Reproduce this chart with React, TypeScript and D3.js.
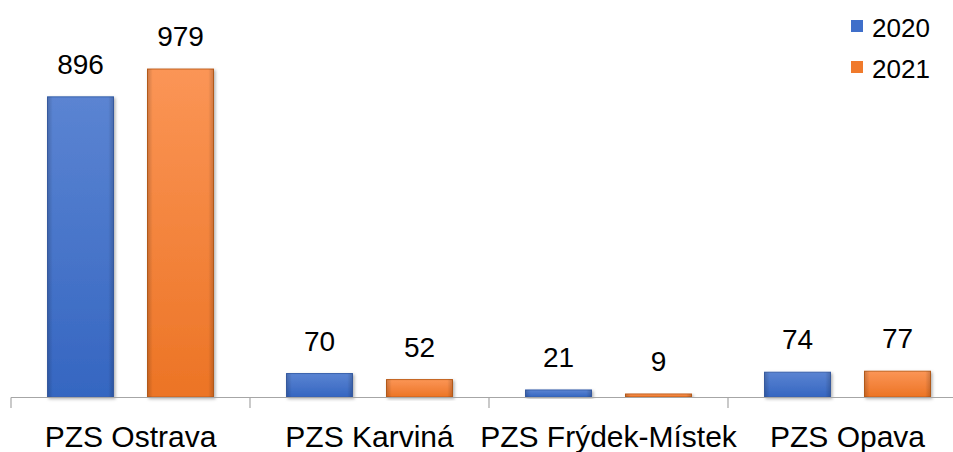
import React from 'react';
import * as d3 from 'd3';

const categories = ['PZS Ostrava', 'PZS Karviná', 'PZS Frýdek-Místek', 'PZS Opava'];
const series = ['2020', '2021'];
const values2020 = [896, 70, 21, 74];
const values2021 = [979, 52, 9, 77];

const width = 953;
const height = 452;
const font = '"Liberation Sans", Arial, sans-serif';

const App = () => {
	const x = d3.scaleBand<string>().domain(categories).range([11, 967]);
	const xs = d3.scaleBand<string>().domain(series).range([36.5, 202.5]).paddingInner(0.34);
	const y = d3.scaleLinear().domain([0, 1000]).range([397, 62]);
	const data = [values2020, values2021];
	const fills = ['url(#gBlue)', 'url(#gOrange)'];
	const edges = ['#3a62ad', '#c3621f'];
	const legendColors = ['#3f6fca', '#f07a2c'];
	const ticks = categories.map((c) => x(c) as number).concat([(x(categories[3]) as number) + x.bandwidth()]);

	return (
		<svg width={width} height={height} style={{ position: 'absolute', left: 0, top: 0 }} fontFamily={font}>
			<defs>
				<linearGradient id="gBlue" x1="0" y1="0" x2="0" y2="1">
					<stop offset="0%" stopColor="#5b84d2" />
					<stop offset="100%" stopColor="#3566c1" />
				</linearGradient>
				<linearGradient id="gOrange" x1="0" y1="0" x2="0" y2="1">
					<stop offset="0%" stopColor="#fb9556" />
					<stop offset="100%" stopColor="#ec7425" />
				</linearGradient>
				<linearGradient id="gEdge" x1="0" y1="0" x2="1" y2="0">
					<stop offset="0%" stopColor="#000" stopOpacity="0.18" />
					<stop offset="8%" stopColor="#000" stopOpacity="0" />
					<stop offset="92%" stopColor="#000" stopOpacity="0" />
					<stop offset="100%" stopColor="#000" stopOpacity="0.18" />
				</linearGradient>
				<filter id="shadow" x="-20%" y="-20%" width="140%" height="140%">
					<feDropShadow dx="1.5" dy="1.5" stdDeviation="1.5" floodColor="#000" floodOpacity="0.3" />
				</filter>
			</defs>
			{categories.map((c, i) => (
				<g key={c}>
					{series.map((s, k) => {
						const v = data[k][i];
						const bx = (x(c) as number) + (xs(s) as number);
						return (
							<g key={s}>
								<rect x={bx} y={y(v)} width={xs.bandwidth()} height={y(0) - y(v)}
									fill={fills[k]} stroke={edges[k]} strokeWidth={1} filter="url(#shadow)" />
								<rect x={bx} y={y(v)} width={xs.bandwidth()} height={y(0) - y(v)} fill="url(#gEdge)" />
								<text x={bx + xs.bandwidth() / 2} y={y(v) - 23} textAnchor="middle" fontSize={28} fill="#000">{v}</text>
							</g>
						);
					})}
					<text x={(x(c) as number) + x.bandwidth() / 2} y={447} textAnchor="middle" fontSize={30} fill="#000">{c}</text>
				</g>
			))}
			<line x1={11} x2={width} y1={397.5} y2={397.5} stroke="#a6a6a6" strokeWidth={1.2} />
			{ticks.map((t) => (
				<line key={t} x1={t} x2={t} y1={397.5} y2={408} stroke="#a6a6a6" strokeWidth={1.2} />
			))}
			{series.map((s, k) => (
				<g key={s} transform={`translate(851,${20 + k * 41})`}>
					<rect x={0} y={0} width={12} height={12} fill={legendColors[k]} />
					<text x={21} y={17} fontSize={26} fill="#000">{s}</text>
				</g>
			))}
		</svg>
	);
};

export default App;
